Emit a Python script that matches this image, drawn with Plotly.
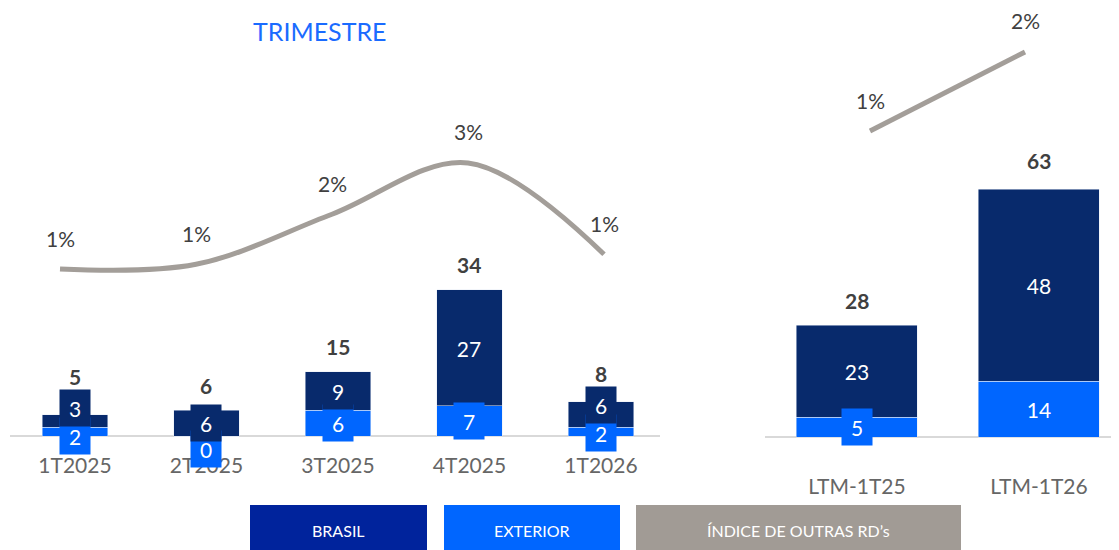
import plotly.graph_objects as go

# ---------------- data ----------------
quarters = ["1T2025", "2T2025", "3T2025", "4T2025", "1T2026"]
brasil_q = [3, 6, 9, 27, 6]
exterior_q = [2, 0, 6, 7, 2]
total_q = [5, 6, 15, 34, 8]
indice_q = [1.0, 1.08, 1.93, 2.8, 1.25]
indice_q_labels = ["1%", "1%", "2%", "3%", "1%"]

ltm = ["LTM-1T25", "LTM-1T26"]
brasil_ltm = [23, 48]
exterior_ltm = [5, 14]
total_ltm = [28, 63]
indice_ltm = [1.2, 1.8]
indice_ltm_labels = ["1%", "2%"]

# ---------------- style ----------------
W, H = 1119, 550
OFF = 8  # page body margin
NAVY = "#082A6C"
BLUE = "#0066FF"
GRAY_LINE = "#A39E99"
LEG_NAVY = "#00239C"
LEG_GRAY = "#A19B95"
TXT_DARK = "#404040"
TICK = "#666666"
FONT = "Lato"
PAD = 10  # px of axis below the baseline

base_left, base_right = 436 - OFF, 437 - OFF
ppu_left, ppu_right = 4.3, 4.0
yl_range = [-PAD / ppu_left, base_left / ppu_left]
yr_range = [-PAD / ppu_right, base_right / ppu_right]
# line axes (value -> px)
lq_b = 58.9
y3_range = [1.0 - (167 + PAD) / lq_b, 1.0 + (269 - OFF) / lq_b]
lr_b = 131.7
y4_range = [1.2 - (306 + PAD) / lr_b, 1.2 + (131 - OFF) / lr_b]

fig = go.Figure()

fig.add_trace(go.Bar(x=quarters, y=exterior_q, marker_color=BLUE, width=0.5,
                     xaxis="x", yaxis="y", name="EXTERIOR"))
fig.add_trace(go.Bar(x=quarters, y=brasil_q, marker_color=NAVY, width=0.5,
                     xaxis="x", yaxis="y", name="BRASIL"))
fig.add_trace(go.Scatter(x=quarters, y=indice_q, mode="lines",
                         line=dict(color=GRAY_LINE, width=5, shape="spline", smoothing=1.0),
                         xaxis="x3", yaxis="y3", name="ÍNDICE"))

fig.add_trace(go.Bar(x=ltm, y=exterior_ltm, marker_color=BLUE, width=0.665,
                     xaxis="x2", yaxis="y2", name="EXTERIOR"))
fig.add_trace(go.Bar(x=ltm, y=brasil_ltm, marker_color=NAVY, width=0.665,
                     xaxis="x2", yaxis="y2", name="BRASIL"))
fig.add_trace(go.Scatter(x=ltm, y=indice_ltm, mode="lines",
                         line=dict(color=GRAY_LINE, width=5),
                         xaxis="x4", yaxis="y4", name="ÍNDICE"))

annotations = []


def add_bar_labels(cats, ext, bra, tot, ppu, xref, yref):
    for c, e, b, t in zip(cats, ext, bra, tot):
        e_px = e / 2 * ppu
        b_px = (e + b / 2) * ppu
        if e == 0:
            e_px = b_px - 26
        elif b_px - e_px < 28:
            m = (b_px + e_px) / 2 + 4
            e_px, b_px = m - 14, m + 14
        t_px = max(t * ppu + 25, b_px + 32)
        for val, px, col in ((e, e_px, BLUE), (b, b_px, NAVY)):
            s = str(val)
            anchor_px = max(px, -PAD + 1)  # keep anchor inside the axis range
            annotations.append(dict(
                x=c, y=anchor_px / ppu, yshift=px - anchor_px,
                xref=xref, yref=yref, text=s, showarrow=False,
                xanchor="center", yanchor="middle",
                font=dict(family=FONT, size=21, color="white"),
                bgcolor=col, width=12 * len(s) + 16, height=34, borderpad=1,
                valign="middle"))
        annotations.append(dict(
            x=c, y=t_px / ppu, xref=xref, yref=yref, text="<b>%d</b>" % t,
            xanchor="center", yanchor="middle",
            showarrow=False, font=dict(family=FONT, size=21, color=TXT_DARK)))


add_bar_labels(quarters, exterior_q, brasil_q, total_q, ppu_left, "x", "y")
add_bar_labels(ltm, exterior_ltm, brasil_ltm, total_ltm, ppu_right, "x2", "y2")

for c, v, s in zip(quarters, indice_q, indice_q_labels):
    annotations.append(dict(x=c, y=v, xref="x3", yref="y3", text=s, showarrow=False,
                            xanchor="center", yanchor="middle", yshift=31,
                            font=dict(family=FONT, size=21, color=TXT_DARK)))
for c, v, s in zip(ltm, indice_ltm, indice_ltm_labels):
    annotations.append(dict(x=c, y=v, xref="x4", yref="y4", text=s, showarrow=False,
                            xanchor="center", yanchor="middle", yshift=31,
                            font=dict(family=FONT, size=21, color=TXT_DARK)))

# title
annotations.append(dict(x=(320 - OFF) / W, y=1 - (31 - OFF) / H, xref="paper", yref="paper",
                        text="TRIMESTRE", showarrow=False, xanchor="center", yanchor="middle",
                        font=dict(family=FONT, size=25, color="#1A6BFF")))

# legend boxes
legend_items = [("BRASIL", LEG_NAVY, 250, 427),
                ("EXTERIOR", BLUE, 444, 620),
                ("ÍNDICE DE OUTRAS RD’s", LEG_GRAY, 636, 961)]
shapes = []
for txt, col, x0, x1 in legend_items:
    shapes.append(dict(type="rect", xref="paper", yref="paper",
                       x0=(x0 - OFF) / W, x1=(x1 - OFF) / W, y0=0, y1=1 - (505 - OFF) / H,
                       fillcolor=col, line=dict(width=0), layer="above"))
    annotations.append(dict(x=(x0 + x1) / 2 / W - OFF / W, y=1 - (530 - OFF) / H,
                            xref="paper", yref="paper", xanchor="center", yanchor="middle",
                            text=txt, showarrow=False,
                            font=dict(family=FONT, size=16, color="white")))

axis_common = dict(type="category", showgrid=False, zeroline=False, showline=False,
                   ticks="", tickfont=dict(family=FONT, size=21, color=TICK),
                   fixedrange=True)
yaxis_common = dict(showgrid=False, showticklabels=False, ticks="", showline=False,
                    zeroline=True, zerolinecolor="#D9D9D9", zerolinewidth=2,
                    fixedrange=True)

fig.update_layout(
    width=W, height=H, margin=dict(l=0, r=0, t=0, b=0),
    paper_bgcolor="white", plot_bgcolor="white", showlegend=False,
    barmode="stack",
    xaxis=dict(domain=[(10 - OFF) / W, (660 - OFF) / W], range=[-0.494, 4.449],
               anchor="y", ticklabelstandoff=5, **axis_common),
    xaxis3=dict(domain=[(10 - OFF) / W, (660 - OFF) / W],
                range=[-50 / 136, 600 / 136], overlaying="x", anchor="y3",
                type="category", visible=False, fixedrange=True),
    yaxis=dict(domain=[(H - base_left - PAD) / H, 1], range=yl_range, anchor="x",
               **yaxis_common),
    yaxis3=dict(range=y3_range, overlaying="y", visible=False, anchor="x3"),
    xaxis2=dict(domain=[(765 - OFF) / W, 1], range=[-0.505, -0.505 + 362 / 182],
                anchor="y2", ticklabelstandoff=25, **axis_common),
    xaxis4=dict(domain=[(765 - OFF) / W, 1], range=[-105 / 155, 257 / 155],
                overlaying="x2", anchor="y4", type="category", visible=False,
                fixedrange=True),
    yaxis2=dict(domain=[(H - base_right - PAD) / H, 1], range=yr_range, anchor="x2",
                **yaxis_common),
    yaxis4=dict(range=y4_range, overlaying="y2", visible=False, anchor="x4"),
    annotations=annotations,
    shapes=shapes,
)

fig.write_html("out.html")
